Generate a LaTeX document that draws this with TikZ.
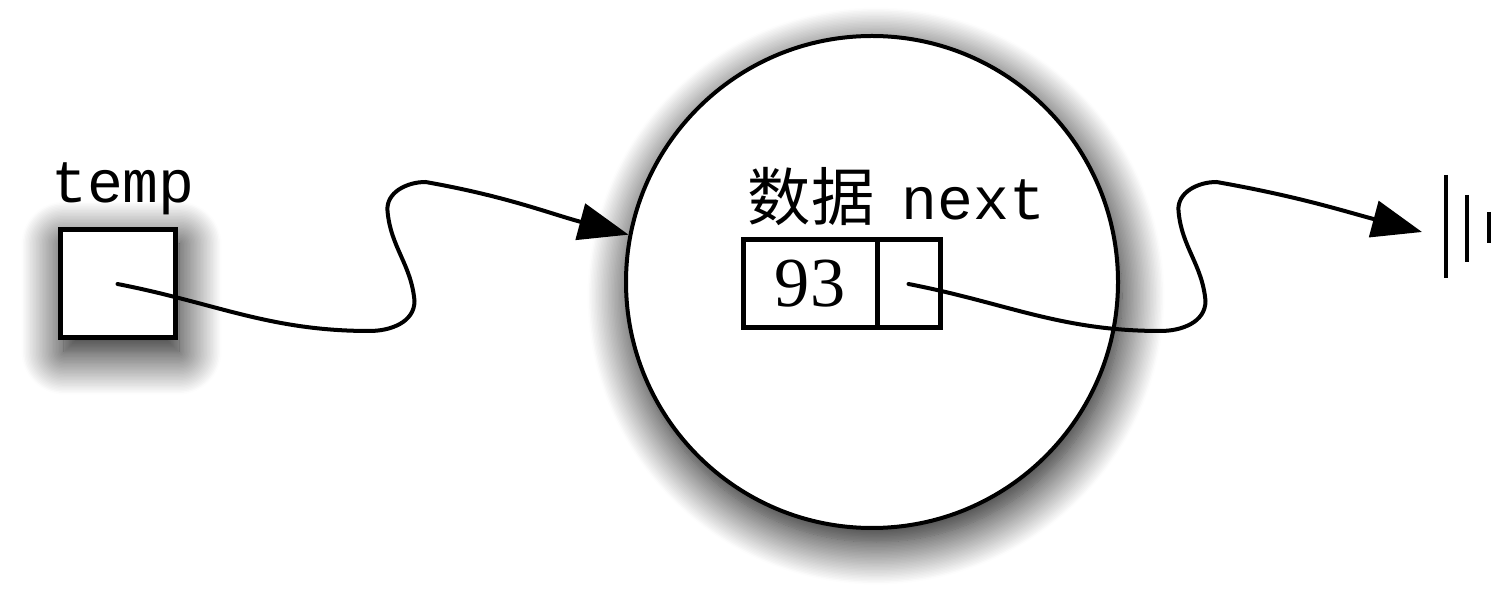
\documentclass[tikz,border=0pt]{standalone}
\usepackage{fontspec}
\setmainfont{Liberation Serif}
\setmonofont{Liberation Mono}
\newfontfamily\cjk{Noto Sans CJK SC}
\usetikzlibrary{arrows.meta,shadows.blur}

\tikzset{
    shadowed/.style={blur shadow={shadow xshift=0.08cm, shadow yshift=-0.28cm,
        shadow blur radius=0.85cm, shadow blur steps=30, shadow opacity=100}},
    box/.style={draw, fill=white, line width=0.1cm, inner sep=0pt, outer sep=0pt},
    cell/.style={draw, line width=0.1cm, inner sep=0pt, outer sep=0pt, minimum height=1.76cm},
    link/.style={line width=0.08cm, line cap=round, -{Triangle[length=1cm,width=0.74cm]}},
    tag/.style={anchor=base, inner sep=0pt, font=\ttfamily\fontsize{34}{34}\selectfont},
}

\begin{document}
\begin{tikzpicture}
        \useasboundingbox (0,0) rectangle (29.84,12.12);

        % the list node
        \node[circle, draw, fill=white, line width=0.08cm, minimum size=9.84cm, shadowed] (nodecirc) at (17.44, 6.48) {};
        \node[cell, minimum width=2.68cm, font=\fontsize{40}{40}\selectfont] (datacell) at (16.2, 6.44) {93};
        \node[cell, minimum width=1.26cm] (nextcell) at (18.17, 6.44) {};
        \node[anchor=base, inner sep=0pt, font=\cjk\fontsize{36}{36}\selectfont] (datalbl) at (16.22, 7.7) {数据};
        \node[tag] (nextlbl) at (19.47, 7.72) {next};

        % temp reference
        \node[box, minimum width=2.3cm, minimum height=2.16cm, shadowed] (temp) at (2.35, 6.44) {};
        \node[tag] (templbl) at (2.46, 8.06) {temp};

        % ground
        \coordinate (gnd) at (28.44, 7.48);
        \draw[line width=0.08cm] ([shift={(0.48,1.14)}]gnd) -- ([shift={(0.48,-0.92)}]gnd);
        \draw[line width=0.08cm] ([shift={(0.9,0.74)}]gnd) -- ([shift={(0.9,-0.6)}]gnd);
        \draw[line width=0.08cm] ([shift={(1.34,0.4)}]gnd) -- ([shift={(1.34,-0.22)}]gnd);

        % temp -> node
        \draw[link] (temp.center) to[out=-11, in=180] ++(5.04,-0.94)
            to[out=0, in=-90] ++(0.9,0.6) to[out=95, in=-85] ++(-0.54,1.8)
            to[out=95, in=180] ++(0.76,0.58) to[out=-10, in=165] (nodecirc.169.5);

        % next -> ground
        \draw[link] (nextcell.center) to[out=-11, in=180] ++(5.04,-0.94)
            to[out=0, in=-90] ++(0.9,0.6) to[out=95, in=-85] ++(-0.54,1.8)
            to[out=95, in=180] ++(0.76,0.58) to[out=-10, in=165] (gnd);
    \end{tikzpicture}
\end{document}
